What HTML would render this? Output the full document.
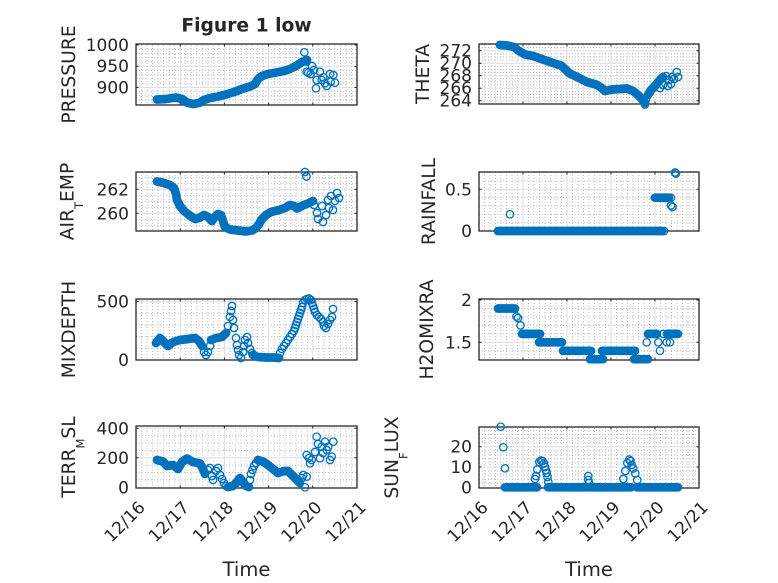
<!DOCTYPE html>
<html><head><meta charset="utf-8"><style>
html,body{margin:0;padding:0;background:#fff;}
svg{display:block;}
text{font-family:"DejaVu Sans","Liberation Sans",sans-serif;fill:#262626;}
.tk{font-size:17px;}
.lb{font-size:18.7px;}
.mg{stroke:#b5b5b5;stroke-width:0.9;stroke-dasharray:1 2;fill:none;}
.g{stroke:#dedede;stroke-width:1;fill:none;}
.bx{fill:none;stroke:#262626;stroke-width:1.3;}
.ti{fill:none;stroke:#262626;stroke-width:1;}
.t{fill:none;stroke:#0072BD;stroke-width:8.7;stroke-linecap:round;stroke-linejoin:round;}
.m circle{fill:none;stroke:#0072BD;stroke-width:1.3;}
</style></head><body>
<svg width="778" height="583" viewBox="0 0 778 583" xmlns="http://www.w3.org/2000/svg">
<defs>
<path id="vL" class="mg" d="M141.53,0V59M147.05,0V59M152.58,0V59M158.1,0V59M163.63,0V59M169.15,0V59M174.68,0V59M185.73,0V59M191.25,0V59M196.78,0V59M202.3,0V59M207.83,0V59M213.35,0V59M218.88,0V59M229.93,0V59M235.45,0V59M240.98,0V59M246.5,0V59M252.03,0V59M257.55,0V59M263.08,0V59M274.13,0V59M279.65,0V59M285.18,0V59M290.7,0V59M296.23,0V59M301.75,0V59M307.28,0V59M318.33,0V59M323.85,0V59M329.38,0V59M334.9,0V59M340.43,0V59M345.95,0V59M351.48,0V59"/>
<path id="vR" class="mg" d="M484.5,0V59M490,0V59M495.5,0V59M501,0V59M506.5,0V59M512,0V59M517.5,0V59M528.5,0V59M534,0V59M539.5,0V59M545,0V59M550.5,0V59M556,0V59M561.5,0V59M572.5,0V59M578,0V59M583.5,0V59M589,0V59M594.5,0V59M600,0V59M605.5,0V59M616.5,0V59M622,0V59M627.5,0V59M633,0V59M638.5,0V59M644,0V59M649.5,0V59M660.5,0V59M666,0V59M671.5,0V59M677,0V59M682.5,0V59M688,0V59M693.5,0V59"/>
</defs>
<rect width="778" height="583" fill="#fff"/>

<!-- minor vertical grids -->
<use href="#vL" y="45"/><use href="#vL" y="172"/><use href="#vL" y="300"/><use href="#vL" y="427.5"/>
<use href="#vR" y="44.5"/><use href="#vR" y="172"/><use href="#vR" y="300"/><use href="#vR" y="428"/>

<!-- minor horizontal grids -->
<path class="mg" d="M136,49.24H357M136,53.48H357M136,57.72H357M136,61.96H357M136,70.44H357M136,74.68H357M136,78.92H357M136,83.16H357M136,91.64H357M136,95.88H357M136,100.12H357"/>
<path class="mg" d="M479,47.58H699M479,53.83H699M479,56.95H699M479,60.08H699M479,66.33H699M479,69.45H699M479,72.58H699M479,78.83H699M479,81.95H699M479,85.08H699M479,91.33H699M479,94.45H699M479,97.58H699"/>
<path class="mg" d="M136,177.3H357M136,183.3H357M136,195.3H357M136,201.3H357M136,207.3H357M136,219.3H357M136,225.3H357"/>
<path class="mg" d="M479,222.66H699M479,214.32H699M479,205.98H699M479,197.64H699M479,180.96H699"/>
<path class="mg" d="M136,348.33H357M136,336.66H357M136,325H357M136,313.3H357"/>
<path class="mg" d="M479,308.46H699M479,316.92H699M479,325.38H699M479,333.84H699M479,350.76H699"/>
<path class="mg" d="M136,479.9H357M136,472.55H357M136,465.2H357M136,450.4H357M136,443.05H357M136,435.7H357"/>
<path class="mg" d="M479,483.24H699M479,479.18H699M479,475.12H699M479,471.06H699M479,462.94H699M479,458.88H699M479,454.82H699M479,450.76H699M479,442.64H699M479,438.58H699M479,434.52H699M479,430.46H699"/>

<!-- major grids -->
<path class="g" d="M180.2,44V105M224.4,44V105M268.6,44V105M312.8,44V105M136,66.2H357M136,87.4H357"/>
<path class="g" d="M523,44V104M567,44V104M611,44V104M655,44V104M479,50.7H699M479,63.2H699M479,75.7H699M479,88.2H699M479,100.7H699"/>
<path class="g" d="M180.2,172V231M224.4,172V231M268.6,172V231M312.8,172V231M136,189.3H357M136,213.3H357"/>
<path class="g" d="M523,172V231M567,172V231M611,172V231M655,172V231M479,189.3H699"/>
<path class="g" d="M180.2,299V360M224.4,299V360M268.6,299V360M312.8,299V360M136,301.65H357"/>
<path class="g" d="M523,299V360M567,299V360M611,299V360M655,299V360M479,342.3H699"/>
<path class="g" d="M180.2,426V488M224.4,426V488M268.6,426V488M312.8,426V488M136,428.3H357M136,457.8H357"/>
<path class="g" d="M523,427V488M567,427V488M611,427V488M655,427V488M479,446.7H699M479,467H699"/>

<!-- boxes -->
<rect class="bx" x="136" y="44" width="221" height="61"/>
<rect class="bx" x="479" y="44" width="220" height="60"/>
<rect class="bx" x="136" y="172" width="221" height="59"/>
<rect class="bx" x="479" y="172" width="220" height="59"/>
<rect class="bx" x="136" y="299" width="221" height="61"/>
<rect class="bx" x="479" y="299" width="220" height="61"/>
<rect class="bx" x="136" y="426" width="221" height="62"/>
<rect class="bx" x="479" y="427" width="220" height="61"/>

<!-- ticks -->
<path class="ti" d="M180.2,105v-2.5M224.4,105v-2.5M268.6,105v-2.5M312.8,105v-2.5M180.2,44v2.5M224.4,44v2.5M268.6,44v2.5M312.8,44v2.5M136,66.2h2.5M136,87.4h2.5M357,66.2h-2.5M357,87.4h-2.5M136,45h2.5M357,45h-2.5"/>
<path class="ti" d="M523,104v-2.5M567,104v-2.5M611,104v-2.5M655,104v-2.5M523,44v2.5M567,44v2.5M611,44v2.5M655,44v2.5M479,50.7h2.5M479,63.2h2.5M479,75.7h2.5M479,88.2h2.5M479,100.7h2.5M699,50.7h-2.5M699,63.2h-2.5M699,75.7h-2.5M699,88.2h-2.5M699,100.7h-2.5"/>
<path class="ti" d="M180.2,231v-2.5M224.4,231v-2.5M268.6,231v-2.5M312.8,231v-2.5M180.2,172v2.5M224.4,172v2.5M268.6,172v2.5M312.8,172v2.5M136,189.3h2.5M136,213.3h2.5M357,189.3h-2.5M357,213.3h-2.5"/>
<path class="ti" d="M523,231v-2.5M567,231v-2.5M611,231v-2.5M655,231v-2.5M523,172v2.5M567,172v2.5M611,172v2.5M655,172v2.5M479,189.3h2.5M699,189.3h-2.5"/>
<path class="ti" d="M180.2,360v-2.5M224.4,360v-2.5M268.6,360v-2.5M312.8,360v-2.5M180.2,299v2.5M224.4,299v2.5M268.6,299v2.5M312.8,299v2.5M136,301.65h2.5M357,301.65h-2.5"/>
<path class="ti" d="M523,360v-2.5M567,360v-2.5M611,360v-2.5M655,360v-2.5M523,299v2.5M567,299v2.5M611,299v2.5M655,299v2.5M479,342.3h2.5M699,342.3h-2.5M479,300h2.5M699,300h-2.5"/>
<path class="ti" d="M180.2,488v-2.5M224.4,488v-2.5M268.6,488v-2.5M312.8,488v-2.5M180.2,426v2.5M224.4,426v2.5M268.6,426v2.5M312.8,426v2.5M136,428.3h2.5M136,457.8h2.5M357,428.3h-2.5M357,457.8h-2.5"/>
<path class="ti" d="M523,488v-2.5M567,488v-2.5M611,488v-2.5M655,488v-2.5M523,427v2.5M567,427v2.5M611,427v2.5M655,427v2.5M479,446.7h2.5M479,467h2.5M699,446.7h-2.5M699,467h-2.5"/>

<!-- y tick labels -->
<g class="tk" text-anchor="end">
<text x="129" y="51">1000</text><text x="129" y="72.2">950</text><text x="129" y="93.4">900</text>
<text x="472" y="56.7">272</text><text x="472" y="69.2">270</text><text x="472" y="81.7">268</text><text x="472" y="94.2">266</text><text x="472" y="106.7">264</text>
<text x="129" y="195.3">262</text><text x="129" y="219.3">260</text>
<text x="472" y="195.3">0.5</text><text x="472" y="237">0</text>
<text x="129" y="307.6">500</text><text x="129" y="366">0</text>
<text x="472" y="306">2</text><text x="472" y="348.3">1.5</text>
<text x="129" y="434.3">400</text><text x="129" y="463.8">200</text><text x="129" y="493.3">0</text>
<text x="472" y="452.7">20</text><text x="472" y="473">10</text><text x="472" y="493.3">0</text>
</g>

<!-- x tick labels -->
<g class="tk" text-anchor="end">
<text transform="translate(146,508.5) rotate(-45)">12/16</text>
<text transform="translate(190.2,508.5) rotate(-45)">12/17</text>
<text transform="translate(234.4,508.5) rotate(-45)">12/18</text>
<text transform="translate(278.6,508.5) rotate(-45)">12/19</text>
<text transform="translate(322.8,508.5) rotate(-45)">12/20</text>
<text transform="translate(367,508.5) rotate(-45)">12/21</text>
<text transform="translate(489,508.5) rotate(-45)">12/16</text>
<text transform="translate(533,508.5) rotate(-45)">12/17</text>
<text transform="translate(577,508.5) rotate(-45)">12/18</text>
<text transform="translate(621,508.5) rotate(-45)">12/19</text>
<text transform="translate(665,508.5) rotate(-45)">12/20</text>
<text transform="translate(709,508.5) rotate(-45)">12/21</text>
</g>

<!-- axis labels -->
<g class="lb" text-anchor="middle">
<text transform="translate(75,74.5) rotate(-90)">PRESSURE</text>
<text transform="translate(429,74) rotate(-90)">THETA</text>
<text transform="translate(73.5,201.5) rotate(-90)">AIR<tspan font-size="11.5" dy="9.5">T</tspan><tspan dy="-9.5">EMP</tspan></text>
<text transform="translate(435,201.5) rotate(-90)">RAINFALL</text>
<text transform="translate(75,329.5) rotate(-90)">MIXDEPTH</text>
<text transform="translate(433,329.5) rotate(-90)">H2OMIXRA</text>
<text transform="translate(75,457) rotate(-90)">TERR<tspan font-size="11.5" dy="9.5">M</tspan><tspan dy="-9.5">SL</tspan></text>
<text transform="translate(398,457.5) rotate(-90)">SUN<tspan font-size="11.5" dy="9.5">F</tspan><tspan dy="-9.5">LUX</tspan></text>
<text x="246.5" y="576" font-size="19.5">Time</text>
<text x="589" y="576" font-size="19.5">Time</text>
<text x="246.5" y="31.5" font-weight="bold">Figure 1 low</text>
</g>

<!-- DATA -->
<!-- P1 PRESSURE -->
<path class="t" d="M157,99.5L166,99L176,97.5L182,99L187,102.5L193,104L199,103L204,100L210,98L218,96.5L226,94.5L234,92L242,89L250,86.5L255,84L258,79L262,76L268,74L276,72.5L284,71L290,69L296,66L302,62L307,60"/>
<g class="m">
<circle cx="304.3" cy="52.3" r="3.7"/><circle cx="306.7" cy="61.7" r="3.7"/><circle cx="306.7" cy="71.7" r="3.7"/><circle cx="308.3" cy="72.7" r="3.7"/><circle cx="310.7" cy="74" r="3.7"/><circle cx="316.7" cy="80" r="3.7"/><circle cx="316" cy="88.3" r="3.7"/><circle cx="320" cy="71.7" r="3.7"/><circle cx="321.7" cy="80" r="3.7"/><circle cx="325" cy="83.3" r="3.7"/><circle cx="326.7" cy="86" r="3.7"/><circle cx="330" cy="74" r="3.7"/><circle cx="333.3" cy="75" r="3.7"/><circle cx="335" cy="82.7" r="3.7"/><circle cx="323.3" cy="77.3" r="3.7"/><circle cx="330.7" cy="81.7" r="3.7"/><circle cx="312" cy="66" r="3.7"/><circle cx="314" cy="70" r="3.7"/>
</g>

<!-- P2 THETA -->
<path class="t" d="M500,45L507,45.5L514,47L519,51L525,54.5L533,56L543,59.5L553,63L561,65.5L565,69L569,73L577,77L587,82L596,84.5L601,87.5L605,91L612,89.5L620,89L627,88.5L633,91L638,95L642,99L645,103"/>
<path class="t" d="M648,95L651,90L655,86L659,81L663,77"/>
<g class="m">
<circle cx="645" cy="104.5" r="3.7"/><circle cx="640" cy="97" r="3.7"/><circle cx="646" cy="99" r="3.7"/><circle cx="666" cy="76" r="3.7"/><circle cx="669" cy="80" r="3.7"/><circle cx="671" cy="84" r="3.7"/><circle cx="674" cy="79" r="3.7"/><circle cx="676.7" cy="72" r="3.7"/><circle cx="672" cy="77" r="3.7"/><circle cx="663" cy="85" r="3.7"/><circle cx="668" cy="86" r="3.7"/><circle cx="678" cy="77" r="3.7"/><circle cx="660" cy="88" r="3.7"/>
</g>

<!-- P3 AIR_TEMP -->
<path class="t" d="M157,181.5L164,183L170,185L174,188L176,194L177,200L180,206L184,211L189,215L195,219L199,218L204,215L208,217L212,221L214,218L218,214L221,215L223,221L225,227L230,229.5L238,230.5L246,231.5L252,230.5L256,228L259,224L262,219L266,215L271,212L279,210L285,208L290,205L294,206L297,208.5L300,207L304,205L309,203L313,201"/>
<g class="m">
<circle cx="305" cy="172" r="3.7"/><circle cx="306.5" cy="176.5" r="3.7"/><circle cx="314" cy="205" r="3.7"/><circle cx="317" cy="213" r="3.7"/><circle cx="318" cy="219" r="3.7"/><circle cx="323" cy="222" r="3.7"/><circle cx="326" cy="215" r="3.7"/><circle cx="329" cy="208" r="3.7"/><circle cx="331" cy="196" r="3.7"/><circle cx="333" cy="210" r="3.7"/><circle cx="335" cy="201" r="3.7"/><circle cx="337" cy="193" r="3.7"/><circle cx="339" cy="198" r="3.7"/><circle cx="328" cy="200" r="3.7"/><circle cx="322" cy="206" r="3.7"/>
</g>

<!-- P4 RAINFALL -->
<path class="t" d="M498,231L662,231"/>
<path class="t" d="M655,197.7L669,197.7"/>
<g class="m">
<circle cx="510" cy="214.3" r="3.7"/><circle cx="671" cy="197.7" r="3.7"/><circle cx="671" cy="205.5" r="3.7"/><circle cx="672.5" cy="207" r="3.7"/><circle cx="675" cy="172.5" r="3.7"/><circle cx="676" cy="173.5" r="3.7"/><circle cx="660" cy="231" r="3.7"/><circle cx="664" cy="231" r="3.7"/>
</g>

<!-- P5 MIXDEPTH -->
<path class="t" d="M156,343L160,338L164,342L168,346L173,342L180,340L188,339L195,338L199,341L202,346"/>
<path class="t" d="M211,340L216,338L222,337L226,333"/>
<path class="t" d="M253,355L258,357L266,357.5L274,357.5L279,358"/>
<g class="m">
<circle cx="204" cy="352" r="3.7"/><circle cx="206" cy="355" r="3.7"/><circle cx="208" cy="352" r="3.7"/><circle cx="210" cy="346" r="3.7"/>
<circle cx="228" cy="326" r="3.7"/><circle cx="230" cy="317" r="3.7"/><circle cx="231" cy="311" r="3.7"/><circle cx="232" cy="306" r="3.7"/><circle cx="233" cy="320" r="3.7"/><circle cx="234" cy="328" r="3.7"/><circle cx="236" cy="338" r="3.7"/><circle cx="237" cy="345" r="3.7"/><circle cx="238" cy="350" r="3.7"/><circle cx="239" cy="355" r="3.7"/><circle cx="241" cy="358" r="3.7"/><circle cx="243" cy="352" r="3.7"/><circle cx="244" cy="346" r="3.7"/><circle cx="245" cy="340" r="3.7"/><circle cx="247" cy="337" r="3.7"/><circle cx="248" cy="343" r="3.7"/><circle cx="250" cy="349" r="3.7"/><circle cx="252" cy="353" r="3.7"/>
<circle cx="280" cy="353" r="3.7"/><circle cx="282" cy="349" r="3.7"/><circle cx="284" cy="346" r="3.7"/><circle cx="286" cy="343" r="3.7"/><circle cx="288" cy="340" r="3.7"/><circle cx="290" cy="337" r="3.7"/><circle cx="292" cy="334" r="3.7"/><circle cx="294" cy="331" r="3.7"/><circle cx="295" cy="328" r="3.7"/><circle cx="296" cy="325" r="3.7"/><circle cx="297" cy="322" r="3.7"/><circle cx="298" cy="319" r="3.7"/><circle cx="299" cy="316" r="3.7"/><circle cx="300" cy="313" r="3.7"/><circle cx="301" cy="310" r="3.7"/><circle cx="302" cy="307" r="3.7"/><circle cx="303" cy="303" r="3.7"/><circle cx="305" cy="300" r="3.7"/><circle cx="307" cy="299" r="3.7"/><circle cx="309" cy="298.5" r="3.7"/><circle cx="311" cy="300" r="3.7"/><circle cx="312" cy="303" r="3.7"/><circle cx="313" cy="306" r="3.7"/><circle cx="314" cy="309" r="3.7"/><circle cx="315" cy="312" r="3.7"/><circle cx="317" cy="315" r="3.7"/><circle cx="319" cy="317" r="3.7"/><circle cx="321" cy="319" r="3.7"/><circle cx="323" cy="322" r="3.7"/><circle cx="324" cy="326" r="3.7"/><circle cx="326" cy="328" r="3.7"/><circle cx="328" cy="324" r="3.7"/><circle cx="330" cy="320" r="3.7"/><circle cx="332" cy="317" r="3.7"/><circle cx="333" cy="309" r="3.7"/>
</g>

<!-- P6 H2OMIXRA -->
<path class="t" d="M498,308.5L515,308.5M522,333.9L540,333.9M539,342.3L562,342.3M563,350.8L591,350.8M590,359.2L603,359.2M602,350.8L635,350.8M634,359.2L648,359.2M648,333.9L657,333.9M667,333.9L678,333.9"/>
<g class="m">
<circle cx="516.5" cy="316.5" r="3.7"/><circle cx="518" cy="318" r="3.7"/><circle cx="520.5" cy="325.4" r="3.7"/><circle cx="646.7" cy="342.3" r="3.7"/><circle cx="658.3" cy="342.3" r="3.7"/><circle cx="660" cy="350.8" r="3.7"/><circle cx="663.3" cy="333.9" r="3.7"/><circle cx="666.7" cy="342.3" r="3.7"/><circle cx="670" cy="342.3" r="3.7"/>
</g>

<!-- P7 TERR_MSL -->
<path class="t" d="M157,460L163,461.5L167,466L173,465L178,469L182,462L187,458.5L193,462L200,463.5L203,469L205,474"/>
<path class="t" d="M228,487L233,486L236,483L240,478L243,482L246,486L249,487"/>
<path class="t" d="M258,460L263,461.5L268,465L273,469L278,473L284,471L288,471L292,475L296,479L300,483"/>
<g class="m">
<circle cx="208" cy="470" r="3.7"/><circle cx="210" cy="468" r="3.7"/><circle cx="212" cy="476" r="3.7"/><circle cx="213" cy="480" r="3.7"/><circle cx="216" cy="471" r="3.7"/><circle cx="218" cy="468" r="3.7"/><circle cx="220" cy="475" r="3.7"/><circle cx="222" cy="479" r="3.7"/><circle cx="224" cy="483" r="3.7"/><circle cx="226" cy="486" r="3.7"/>
<circle cx="250" cy="480" r="3.7"/><circle cx="251" cy="474" r="3.7"/><circle cx="252.5" cy="470" r="3.7"/><circle cx="254" cy="466" r="3.7"/><circle cx="256" cy="463" r="3.7"/>
<circle cx="302" cy="478" r="3.7"/><circle cx="303.3" cy="475" r="3.7"/><circle cx="305" cy="487.3" r="3.7"/><circle cx="306.7" cy="476.7" r="3.7"/>
<circle cx="306.7" cy="455" r="3.7"/><circle cx="310" cy="463.3" r="3.7"/><circle cx="311.7" cy="460" r="3.7"/><circle cx="316.7" cy="436.7" r="3.7"/><circle cx="320" cy="458.3" r="3.7"/><circle cx="321.7" cy="446.7" r="3.7"/><circle cx="325" cy="441.7" r="3.7"/><circle cx="326.7" cy="450" r="3.7"/><circle cx="330" cy="460" r="3.7"/><circle cx="333.3" cy="441.7" r="3.7"/><circle cx="328.3" cy="446.7" r="3.7"/><circle cx="331.7" cy="456.7" r="3.7"/><circle cx="309" cy="458" r="3.7"/><circle cx="315" cy="452" r="3.7"/><circle cx="323" cy="453" r="3.7"/><circle cx="318" cy="444" r="3.7"/>
</g>

<!-- P8 SUN_FLUX -->
<path class="t" d="M505,487.3L537,487.3M548,487.3L587,487.3M590,487.3L631,487.3M637,487.3L678,487.3"/>
<g class="m">
<circle cx="500.7" cy="426.7" r="3.7"/><circle cx="503.3" cy="447.3" r="3.7"/><circle cx="505" cy="468.3" r="3.7"/>
<circle cx="535" cy="479" r="3.7"/><circle cx="536" cy="476" r="3.7"/><circle cx="537.3" cy="469.5" r="3.7"/><circle cx="539.3" cy="462" r="3.7"/><circle cx="541" cy="460.5" r="3.7"/><circle cx="542.5" cy="461" r="3.7"/><circle cx="544" cy="463.5" r="3.7"/><circle cx="545" cy="467" r="3.7"/><circle cx="546" cy="470" r="3.7"/><circle cx="546.7" cy="473" r="3.7"/><circle cx="547.5" cy="477" r="3.7"/><circle cx="548.3" cy="482" r="3.7"/>
<circle cx="588.3" cy="476" r="3.7"/><circle cx="588.3" cy="480" r="3.7"/><circle cx="589" cy="483" r="3.7"/>
<circle cx="623.3" cy="479" r="3.7"/><circle cx="625.3" cy="471" r="3.7"/><circle cx="627.3" cy="463" r="3.7"/><circle cx="629.3" cy="459.5" r="3.7"/><circle cx="630.5" cy="461" r="3.7"/><circle cx="631.7" cy="465" r="3.7"/><circle cx="633.3" cy="468.5" r="3.7"/><circle cx="635.3" cy="473.5" r="3.7"/><circle cx="637.3" cy="480" r="3.7"/>
</g>
</svg>
</body></html>
